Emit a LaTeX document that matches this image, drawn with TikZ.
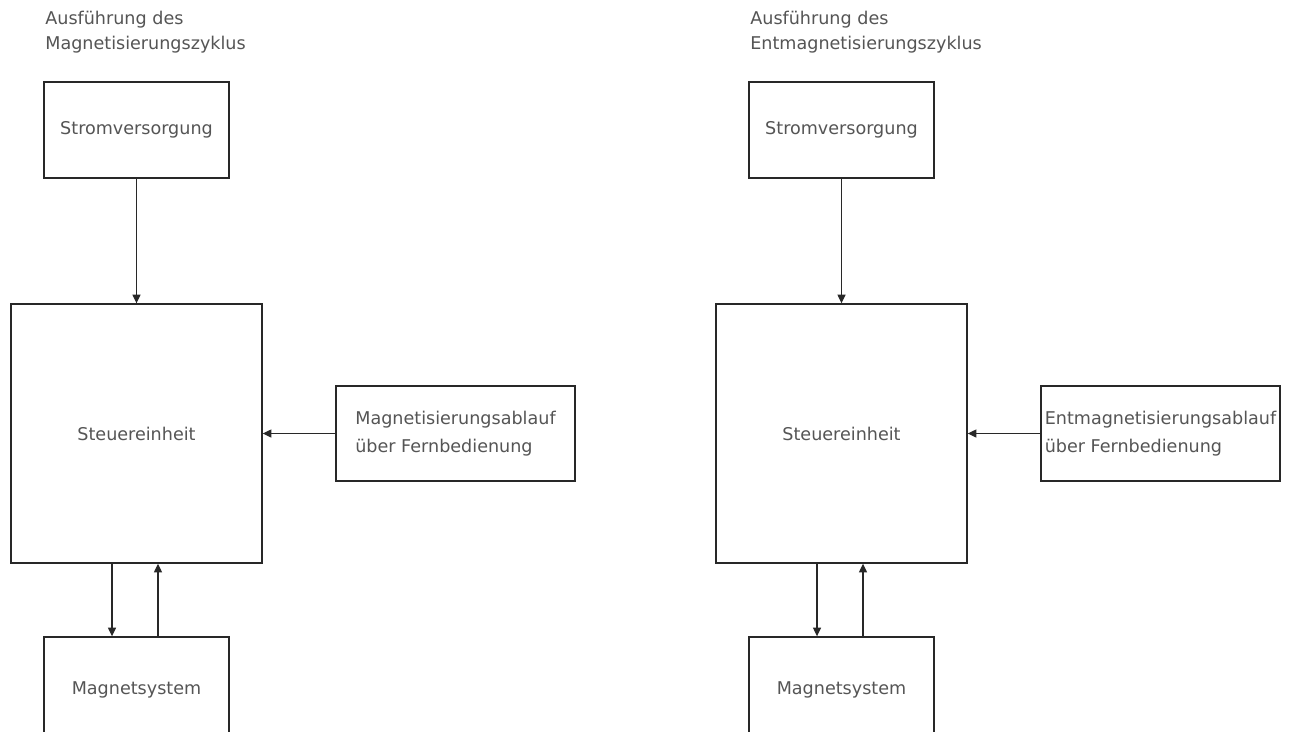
\documentclass[tikz,border=0pt]{standalone}
\usepackage{fontspec}
\setmainfont{DejaVu Sans}
\usetikzlibrary{arrows.meta,positioning}
\definecolor{zyText}{RGB}{85,85,85}
\definecolor{zyLine}{RGB}{40,40,40}
\tikzset{
  block/.style={draw=zyLine, line width=0.8pt, font=\fontsize{10}{16}\selectfont,
    text=zyText, align=left, inner sep=0pt},
  titel/.style={anchor=north west, inner sep=0pt, align=left,
    font=\fontsize{10}{14.2}\selectfont, text=zyText},
  pfeil/.style={draw=zyLine, line width=0.7pt, -{Triangle[length=5pt,width=4.6pt]}}
}
% one half of the figure: prefix, x offset, title word, remote-control word
\newcommand{\zyklusteil}[4]{%
  \begin{scope}[shift={(#2,0)}]
    \node[titel] (#1titel) at (45,11) {Ausführung des\\#3zyklus};
    \node[block, minimum width=3.7cm, minimum height=1.92cm] (#1strom) at (136.5,130) {Stromversorgung};
    \node[block, minimum width=5.02cm, minimum height=5.18cm] (#1steuer) at (136.5,433.5) {Steuereinheit};
    \node[block, minimum width=4.78cm, minimum height=1.9cm] (#1ablauf) at (455.5,433.5) {#4ablauf\\über Fernbedienung};
    \node[block, minimum width=3.7cm, minimum height=2.12cm] (#1magnet) at (136.5,690) {Magnetsystem};
    \draw[pfeil] (#1strom.south) -- (#1steuer.north);
    \draw[pfeil] (#1ablauf.west) -- (#1steuer.east);
    \draw[pfeil] ([xshift=-0.49cm]#1steuer.south) -- ([xshift=-0.49cm]#1steuer.south |- #1magnet.north);
    \draw[pfeil] ([xshift=0.43cm]#1steuer.south |- #1magnet.north) -- ([xshift=0.43cm]#1steuer.south);
  \end{scope}}

\begin{document}
\begin{tikzpicture}[x=0.02cm, y=-0.02cm]
  \useasboundingbox[fill=white] (0,0) rectangle (1291,731);
  \zyklusteil{m}{0}{Magnetisierungs}{Magnetisierungs}
  \zyklusteil{e}{705}{Entmagnetisierungs}{Entmagnetisierungs}
\end{tikzpicture}
\end{document}
